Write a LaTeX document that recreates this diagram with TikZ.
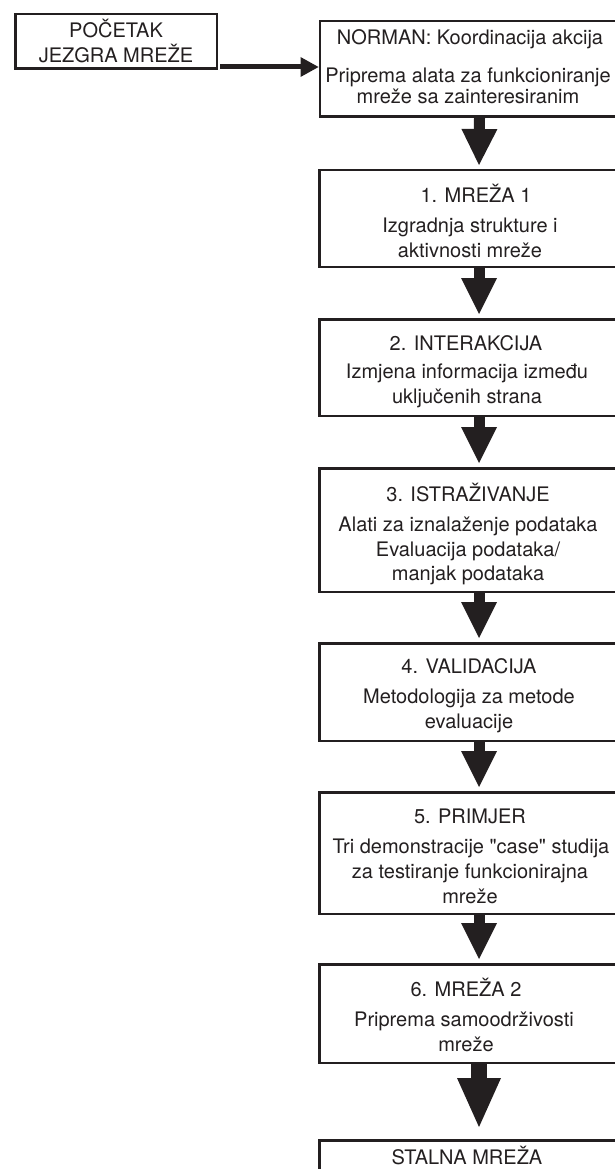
\documentclass[tikz,border=0pt]{standalone}
\usepackage{fontspec}
\setmainfont{TeX Gyre Heros}
\usetikzlibrary{arrows.meta}
\definecolor{ink}{HTML}{231F20}
\begin{document}
\begin{tikzpicture}[x=1pt,y=-1pt,
  box/.style={draw=ink,line width=2.5pt,inner sep=0pt,minimum width=319.5pt},
  lbl/.style={anchor=base,inner sep=0pt,text=ink,font=\fontsize{20}{24}\selectfont},
  darr/.style={draw=ink,line width=11pt,-{Triangle[width=36pt,length=36pt,line width=0pt]}},
  bigarr/.style={draw=ink,line width=16pt,-{Triangle[width=44pt,length=49pt,line width=0pt]}},
  harr/.style={draw=ink,line width=5pt,-{Triangle[width=20pt,length=18pt,line width=0pt]}}]
\useasboundingbox (0,0) rectangle (615,1169);
\clip (0,0) rectangle (615,1169);

% boxes
\node[box,minimum width=201.5pt,minimum height=54.5pt] (start) at (116,41.5) {};
\node[box,minimum height=95.5pt] (norman) at (479.5,69) {};
\node[box,minimum height=96.5pt] (b1) at (479,218.5) {};
\node[box,minimum height=96.5pt] (b2) at (479,367.5) {};
\node[box,minimum height=123.5pt] (b3) at (479,530) {};
\node[box,minimum height=97.5pt] (b4) at (479,692) {};
\node[box,minimum height=121.5pt] (b5) at (479,853) {};
\node[box,minimum height=98.5pt] (b6) at (479,1013.5) {};
\node[box,minimum height=78.5pt] (fin) at (479,1179.5) {};

% texts
\node[lbl] (s1) at (116,38) {POČETAK};
\node[lbl] (s2) at (116,63) {JEZGRA MREŽE};

\node[lbl] (n1) at (470,45) {NORMAN: Koordinacija akcija};
\node[lbl] (n2) at (468,83) {Priprema alata za funkcioniranje};
\node[lbl] (n3) at (468,104) {mreže sa zainteresiranim};

\node[lbl] (t1a) at (476,203) {1. MREŽA 1};
\node[lbl] (t1b) at (470,232) {Izgradnja strukture i};
\node[lbl] (t1c) at (470,257) {aktivnosti mreže};

\node[lbl] (t2a) at (466,350) {2. INTERAKCIJA};
\node[lbl] (t2b) at (467,378) {Izmjena informacija između};
\node[lbl] (t2c) at (467,403) {uključenih strana};

\node[lbl] (t3a) at (468,501) {3. ISTRAŽIVANJE};
\node[lbl] (t3b) at (468,531) {Alati za iznalaženje podataka};
\node[lbl] (t3c) at (468,556) {Evaluacija podataka/};
\node[lbl] (t3d) at (468,580) {manjak podataka};

\node[lbl] (t4a) at (469,673) {4. VALIDACIJA};
\node[lbl] (t4b) at (469,703) {Metodologija za metode};
\node[lbl] (t4c) at (469,728) {evaluacije};

\node[lbl] (t5a) at (470,823) {5. PRIMJER};
\node[lbl] (t5b) at (471,853) {Tri demonstracije \textquotedbl case\textquotedbl{} studija};
\node[lbl] (t5c) at (470,878) {za testiranje funkcionirajna};
\node[lbl] (t5d) at (470,903) {mreže};

\node[lbl] (t6a) at (466,996) {6. MREŽA 2};
\node[lbl] (t6b) at (464,1026) {Priprema samoodrživosti};
\node[lbl] (t6c) at (466,1051) {mreže};

\node[lbl] (tf) at (467,1164) {STALNA MREŽA};

% connectors
\coordinate (h0) at (220,67);
\draw[harr] (h0) -- (h0 -| norman.west);
\draw[darr] (norman.south) -- ([yshift=4pt]b1.north);
\draw[darr] (b1.south) -- ([yshift=4pt]b2.north);
\draw[darr] (b2.south) -- ([yshift=4pt]b3.north);
\draw[darr] (b3.south) -- ([yshift=4pt]b4.north);
\draw[darr] (b4.south) -- ([yshift=4pt]b5.north);
\draw[darr] (b5.south) -- ([yshift=4pt]b6.north);
\draw[bigarr] (b6.south) -- ([yshift=12pt]fin.north);
\end{tikzpicture}
\end{document}
